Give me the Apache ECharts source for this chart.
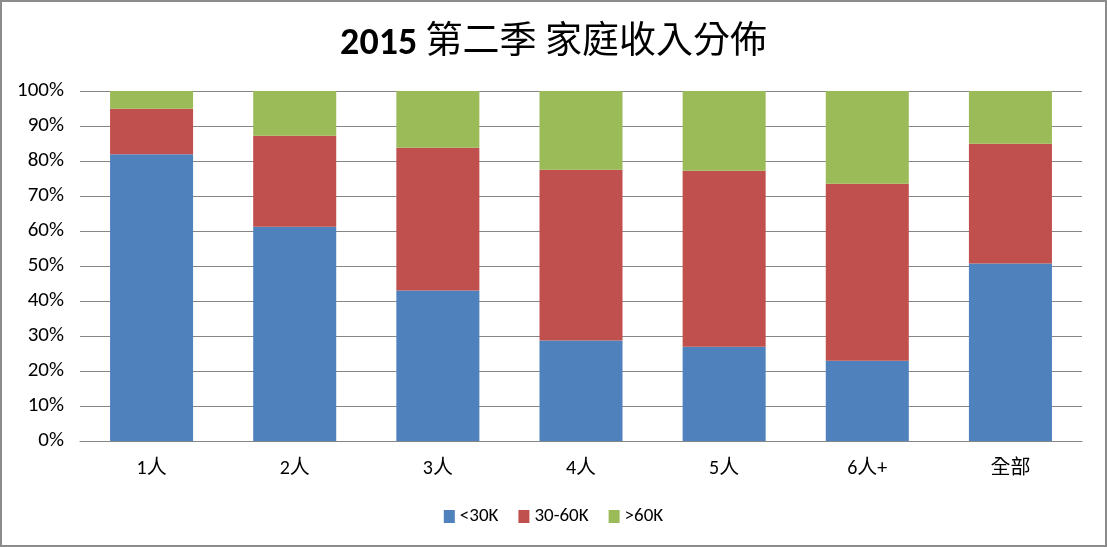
<!DOCTYPE html>
<html><head><meta charset="utf-8">
<script src="https://cdn.jsdelivr.net/npm/echarts@6/dist/echarts.min.js"></script>
<style>html,body{margin:0;padding:0;background:#fff}#c{width:1107px;height:547px;box-sizing:border-box;border:2px solid #8c8c8c}</style>
</head><body><div id="c"></div>
<script>
var categories = ['1人','2人','3人','4人','5人','6人+','全部'];
var seriesNames = ['<30K','30-60K','>60K'];
var low = [81.9, 61.2, 43.0, 28.7, 26.9, 22.9, 50.7];
var mid = [13.0, 26.0, 40.8, 48.8, 50.3, 50.6, 34.2];
var high = [5.1, 12.8, 16.2, 22.5, 22.8, 26.5, 15.1];
var colors = ['#4f81bd','#c0504d','#9bbb59'];
var font = 'Calibri, "Liberation Sans", "Noto Sans CJK TC", sans-serif';
var chart = echarts.init(document.getElementById('c'));
function mk(name, data, i){
  return {name:name, type:'bar', stack:'a', data:data, barWidth:'58%',
    itemStyle:{color:colors[i]}, emphasis:{disabled:true}};
}
chart.setOption({
  animation:false,
  title:{text:'{b|2015} 第二季 家庭收入分佈', left:'center', top:18,
    textStyle:{fontFamily:font, fontSize:37, fontWeight:'normal', color:'#000',
      rich:{b:{fontFamily:font, fontSize:38, fontWeight:'bold', color:'#000'}}}},
  legend:{bottom:14, left:'center', itemWidth:11, itemHeight:13, itemGap:20,
    icon:'rect', textStyle:{fontFamily:font, fontSize:19, color:'#000'},
    data:seriesNames},
  grid:{left:78, right:23, top:89, bottom:104},
  xAxis:{type:'category', data:categories,
    axisLine:{lineStyle:{color:'#868686'}}, axisTick:{show:false},
    axisLabel:{fontFamily:font, fontSize:20, color:'#000', margin:18}},
  yAxis:{type:'value', min:0, max:100, interval:10,
    axisLine:{show:false}, axisTick:{show:false},
    axisLabel:{formatter:'{value}%', fontFamily:font, fontSize:21, color:'#000', margin:16},
    splitLine:{lineStyle:{color:'#868686'}}},
  series:[mk(seriesNames[0], low, 0), mk(seriesNames[1], mid, 1), mk(seriesNames[2], high, 2)]
});
</script></body></html>
